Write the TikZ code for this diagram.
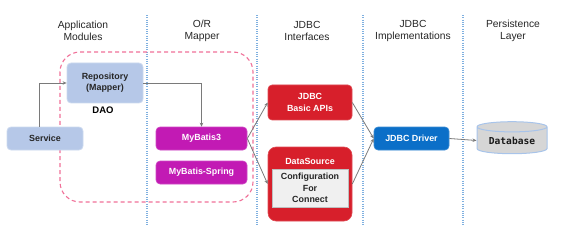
\documentclass[tikz,border=0pt]{standalone}
\usepackage{fontspec}
\setmainfont{Liberation Sans}
\newfontfamily\dbfont{DejaVu Sans Mono}
\usetikzlibrary{shapes.geometric,arrows.meta}
\definecolor{svcblue}{HTML}{B6C8E8}
\definecolor{mbmag}{HTML}{C21AB4}
\definecolor{jdbcred}{HTML}{D71F2B}
\definecolor{drvblue}{HTML}{0B6FC8}
\definecolor{dbgray}{HTML}{D6D6D6}
\definecolor{dbedge}{HTML}{A8C4EA}
\definecolor{sepblue}{HTML}{7FB0E0}
\definecolor{daopink}{HTML}{F07098}
\definecolor{linkgray}{HTML}{7A7A7A}
\tikzset{
  header/.style={font=\fontsize{10.3}{12.5}\selectfont, text=black!85, align=center},
  boxbase/.style={rounded corners=4pt, inner sep=0pt, align=center,
    font=\fontsize{8.9}{11.2}\selectfont\bfseries},
  appbox/.style={boxbase, fill=svcblue, draw=svcblue!70!white, line width=0.8pt, text=black!85},
  mbbox/.style={boxbase, fill=mbmag, draw=mbmag!80!white, line width=0.6pt, text=white},
  redbox/.style={boxbase, fill=jdbcred, draw=jdbcred!80!white, line width=0.6pt, text=white},
  drvbox/.style={boxbase, fill=drvblue, draw=drvblue!80!white, line width=0.6pt, text=white},
  sep/.style={sepblue, line width=1.1pt, dash pattern=on 1pt off 1.3pt},
  link/.style={linkgray, line width=0.8pt, -{Stealth[length=4pt,width=3.5pt]}},
}
\begin{document}
\begin{tikzpicture}[x=1pt,y=-1pt]
\useasboundingbox (0,0) rectangle (567,243);

% column separators
\foreach \xx/\nm in {147/s1,257/s2,363/s3,463/s4}{
  \coordinate (\nm a) at (\xx,15);
  \coordinate (\nm b) at (\xx,225);
  \draw[sep] (\nm a) -- (\nm b);
}

% column headers
\node[header] (h1) at (83,31) {Application\\Modules};
\node[header] (h2) at (202,31) {O/R\\Mapper};
\node[header] (h3) at (307,31) {JDBC\\Interfaces};
\node[header] (h4) at (413,31) {JDBC\\Implementations};
\node[header] (h5) at (513,31) {Persistence\\Layer};

% DAO group outline
\draw[daopink, line width=1.1pt, dash pattern=on 4pt off 3pt, rounded corners=20pt]
  (60,52) rectangle (253,202);

% application modules
\node[appbox, minimum width=76pt, minimum height=40pt] (repo) at (105,83) {Repository\\(Mapper)};
\node[font=\fontsize{9.5}{11}\selectfont\bfseries] (dao) at (103,110) {DAO};
\node[appbox, minimum width=76pt, minimum height=23pt] (svc) at (45,138.5) {Service};

% O/R mapper
\node[mbbox, minimum width=91pt, minimum height=23pt] (mb3) at (201.5,138.5) {MyBatis3};
\node[mbbox, minimum width=91pt, minimum height=23pt] (mbs) at (201.5,172.5) {MyBatis-Spring};

% JDBC interfaces
\node[redbox, minimum width=84pt, minimum height=35pt] (api) at (310,102.5) {JDBC\\Basic APIs};
\node[redbox, rounded corners=8pt, minimum width=84pt, minimum height=74pt] (ds) at (310,184) {};
\node[font=\fontsize{8.9}{11}\selectfont\bfseries, text=white] (dst) at (310,161) {DataSource};
\node[fill=black!6, draw=black!25, line width=0.4pt, minimum width=76pt, minimum height=38pt,
  inner sep=0pt, align=center, font=\fontsize{8.9}{11.2}\selectfont\bfseries, text=black!85]
  (dsc) at (310,188) {Configuration\\For\\Connect};

% JDBC implementation
\node[drvbox, minimum width=75pt, minimum height=23pt] (drv) at (411.5,138.5) {JDBC Driver};

% persistence layer
\node[cylinder, shape border rotate=90, aspect=0.22, draw=dbedge, line width=1pt,
  fill=dbgray, minimum width=70pt, minimum height=32pt, inner sep=0pt,
  font=\dbfont\fontsize{9.6}{11}\selectfont\bfseries, text=black!90] (db) at (512,140.5) {Database};

% connectors
\draw[link] ([xshift=-6pt]svc.north) |- (repo.west);
\draw[link] (repo.east) -| (mb3.north);
\draw[link] (mb3.east) -- (api.west);
\draw[link] (mb3.east) -- (ds.west);
\draw[link] (api.east) -- (drv.west);
\draw[link] (ds.east) -- (drv.west);
\draw[link] (drv.east) -- (db.west);
\end{tikzpicture}
\end{document}
